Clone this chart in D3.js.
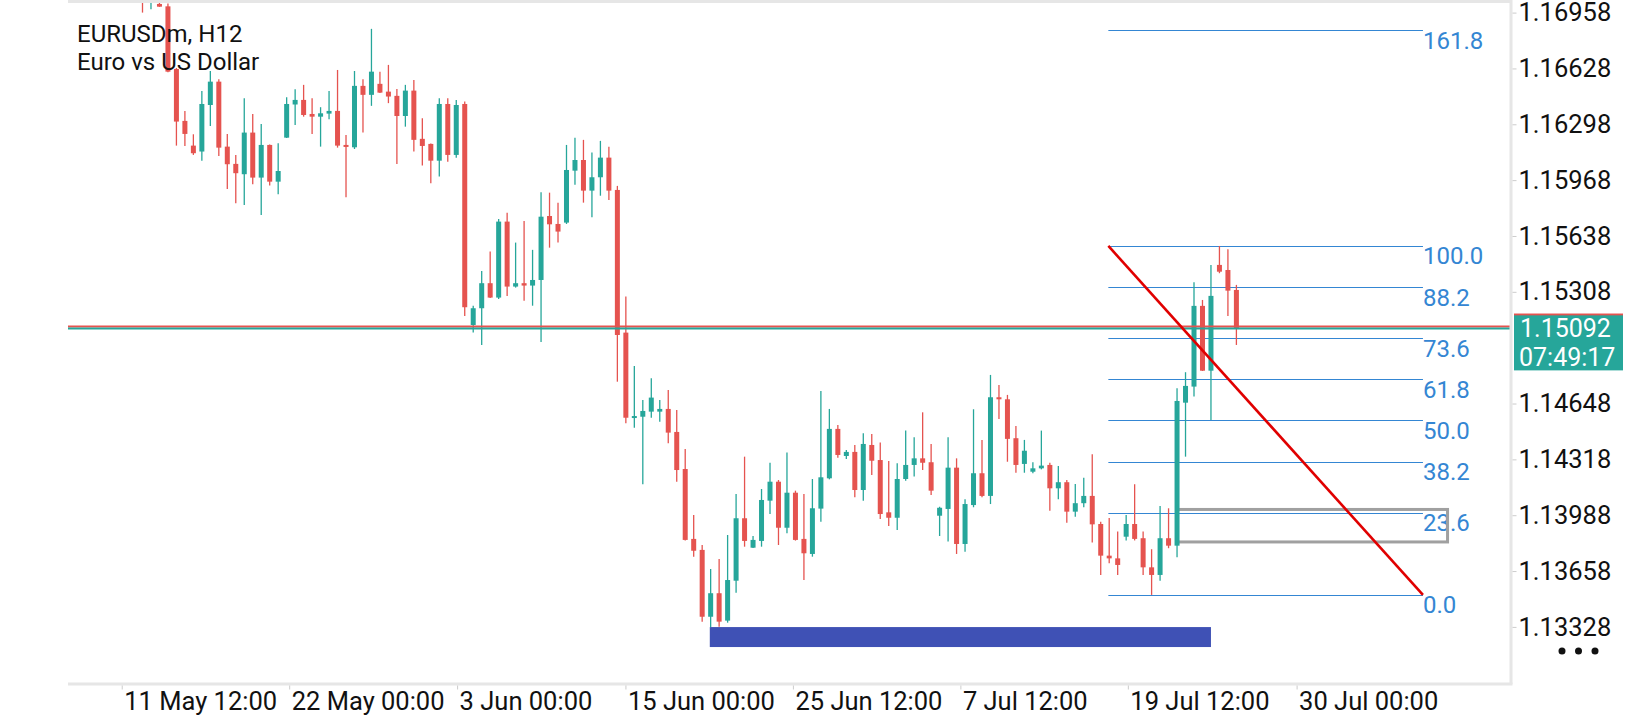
<!DOCTYPE html>
<html>
<head>
<meta charset="utf-8">
<script src="https://cdn.jsdelivr.net/npm/d3@7"></script>
<style>
  html, body { margin: 0; padding: 0; background: #ffffff; }
  svg { display: block; font-family: Roboto, "Noto Sans", sans-serif; }
</style>
</head>
<body>
<div id="chart"></div>
<script>
// EURUSDm H12 candles (oldest first)
var opens = [
  1.17080, 1.17027, 1.17009, 1.16995, 1.16625, 1.16318, 1.16172, 1.16137, 1.16412, 1.16550,
  1.16166, 1.16064, 1.16003, 1.16249, 1.15983, 1.16176, 1.15959, 1.16219, 1.16415, 1.16442,
  1.16359, 1.16343, 1.16361, 1.16377, 1.16176, 1.16162, 1.16525, 1.16472, 1.16537, 1.16491,
  1.16466, 1.16347, 1.16497, 1.16212, 1.16182, 1.16083, 1.16418, 1.16117, 1.16418, 1.15112,
  1.15211, 1.15359, 1.15274, 1.15723, 1.15339, 1.15359, 1.15345, 1.15378, 1.15756, 1.15709,
  1.15717, 1.16024, 1.16087, 1.15906, 1.15985, 1.16101, 1.15910, 1.15067, 1.14564, 1.14570,
  1.14600, 1.14600, 1.14616, 1.14480, 1.14261, 1.13848, 1.13783, 1.13388, 1.13527, 1.13365,
  1.13601, 1.13970, 1.13796, 1.13836, 1.14074, 1.14186, 1.13914, 1.14121, 1.13848, 1.13759,
  1.14027, 1.14206, 1.14498, 1.14338, 1.14362, 1.14137, 1.14403, 1.14314, 1.14005, 1.13973,
  1.14202, 1.14285, 1.14324, 1.14301, 1.13985, 1.14025, 1.14269, 1.13818, 1.14048, 1.14236,
  1.14102, 1.14685, 1.14673, 1.14443, 1.14291, 1.14245, 1.14265, 1.14285, 1.14147, 1.14183,
  1.14009, 1.14059, 1.14102, 1.13936, 1.13749, 1.13733, 1.13861, 1.13936, 1.13852, 1.13680,
  1.13635, 1.13852, 1.13808, 1.14653, 1.14748, 1.15225, 1.14842, 1.15467, 1.15437, 1.15319
];
var highs = [
  1.17104, 1.17092, 1.17015, 1.17012, 1.16631, 1.16377, 1.16239, 1.16495, 1.16613, 1.16564,
  1.16241, 1.16117, 1.16452, 1.16359, 1.16300, 1.16178, 1.16186, 1.16458, 1.16505, 1.16531,
  1.16452, 1.16399, 1.16495, 1.16619, 1.16235, 1.16613, 1.16564, 1.16862, 1.16609, 1.16649,
  1.16507, 1.16531, 1.16560, 1.16334, 1.16184, 1.16452, 1.16452, 1.16442, 1.16432, 1.15225,
  1.15431, 1.15546, 1.15739, 1.15776, 1.15599, 1.15727, 1.15556, 1.15897, 1.15894, 1.15835,
  1.16176, 1.16219, 1.16206, 1.16131, 1.16200, 1.16166, 1.15934, 1.15280, 1.14870, 1.14669,
  1.14797, 1.14669, 1.14728, 1.14610, 1.14379, 1.13989, 1.13812, 1.13670, 1.13729, 1.13871,
  1.14114, 1.14334, 1.13865, 1.14143, 1.14298, 1.14196, 1.14358, 1.14133, 1.14114, 1.14202,
  1.14722, 1.14616, 1.14521, 1.14374, 1.14403, 1.14472, 1.14468, 1.14417, 1.14309, 1.14295,
  1.14488, 1.14449, 1.14596, 1.14409, 1.14038, 1.14449, 1.14324, 1.14082, 1.14614, 1.14433,
  1.14817, 1.14758, 1.14699, 1.14515, 1.14433, 1.14301, 1.14488, 1.14298, 1.14279, 1.14196,
  1.14173, 1.14210, 1.14348, 1.13950, 1.13972, 1.13891, 1.13989, 1.14171, 1.13891, 1.13787,
  1.14043, 1.14029, 1.14738, 1.14833, 1.15365, 1.15260, 1.15467, 1.15579, 1.15560, 1.15349
];
var lows = [
  1.16958, 1.16978, 1.16992, 1.16605, 1.16172, 1.16170, 1.16117, 1.16083, 1.16288, 1.16111,
  1.15916, 1.15831, 1.15821, 1.15944, 1.15762, 1.15936, 1.15885, 1.16217, 1.16294, 1.16343,
  1.16241, 1.16166, 1.16328, 1.16160, 1.15867, 1.16152, 1.16249, 1.16407, 1.16483, 1.16423,
  1.16064, 1.16284, 1.16137, 1.16054, 1.15950, 1.15989, 1.16077, 1.16101, 1.15165, 1.15067,
  1.14994, 1.15272, 1.15266, 1.15284, 1.15333, 1.15256, 1.15226, 1.15012, 1.15569, 1.15599,
  1.15709, 1.15940, 1.15835, 1.15749, 1.15876, 1.15851, 1.14777, 1.14531, 1.14505, 1.14171,
  1.14564, 1.14541, 1.14413, 1.14186, 1.13838, 1.13743, 1.13359, 1.13327, 1.13329, 1.13353,
  1.13530, 1.13802, 1.13794, 1.13802, 1.13995, 1.13812, 1.13881, 1.13838, 1.13605, 1.13743,
  1.13950, 1.14200, 1.14328, 1.14320, 1.14094, 1.14074, 1.14226, 1.13966, 1.13924, 1.13901,
  1.14192, 1.14216, 1.14255, 1.14108, 1.13865, 1.13832, 1.13759, 1.13772, 1.14035, 1.14094,
  1.14054, 1.14557, 1.14304, 1.14239, 1.14239, 1.14236, 1.14259, 1.14015, 1.14082, 1.13944,
  1.13979, 1.14035, 1.13826, 1.13635, 1.13704, 1.13635, 1.13838, 1.13839, 1.13635, 1.13517,
  1.13601, 1.13793, 1.13739, 1.14334, 1.14689, 1.14840, 1.14551, 1.15418, 1.15165, 1.14994
];
var closes = [
  1.17027, 1.17068, 1.16993, 1.16609, 1.16314, 1.16241, 1.16127, 1.16418, 1.16550, 1.16160,
  1.16062, 1.16009, 1.16249, 1.15983, 1.16176, 1.15959, 1.16022, 1.16418, 1.16442, 1.16353,
  1.16343, 1.16363, 1.16377, 1.16172, 1.16166, 1.16525, 1.16472, 1.16609, 1.16485, 1.16462,
  1.16347, 1.16497, 1.16206, 1.16170, 1.16083, 1.16418, 1.16117, 1.16412, 1.15217, 1.15211,
  1.15359, 1.15274, 1.15723, 1.15339, 1.15359, 1.15345, 1.15378, 1.15752, 1.15707, 1.15664,
  1.16028, 1.16087, 1.15906, 1.15985, 1.16101, 1.15906, 1.15053, 1.14564, 1.14574, 1.14604,
  1.14683, 1.14616, 1.14476, 1.14255, 1.13842, 1.13778, 1.13388, 1.13527, 1.13359, 1.13605,
  1.13970, 1.13836, 1.13842, 1.14078, 1.14186, 1.13914, 1.14121, 1.13842, 1.13763, 1.14029,
  1.14212, 1.14498, 1.14344, 1.14362, 1.14137, 1.14409, 1.14310, 1.13995, 1.13973, 1.14202,
  1.14285, 1.14324, 1.14298, 1.14133, 1.14032, 1.14269, 1.13818, 1.14054, 1.14236, 1.14102,
  1.14685, 1.14673, 1.14439, 1.14285, 1.14369, 1.14265, 1.14281, 1.14147, 1.14183, 1.14009,
  1.14059, 1.14102, 1.13934, 1.13749, 1.13733, 1.13694, 1.13936, 1.13848, 1.13680, 1.13635,
  1.13852, 1.13808, 1.14663, 1.14752, 1.15225, 1.14842, 1.15284, 1.15427, 1.15315, 1.15092
];

// price axis (1.14978 sits under the quote box, so it is not shown)
var priceTicks = [1.16958, 1.16628, 1.16298, 1.15968, 1.15638, 1.15308,
                  1.14648, 1.14318, 1.13988, 1.13658, 1.13328];

// time axis (bar index where each label sits)
var timeLabels = ["11 May 12:00", "22 May 00:00", "3 Jun 00:00", "15 Jun 00:00",
                  "25 Jun 12:00", "7 Jul 12:00", "19 Jul 12:00", "30 Jul 00:00"];
var timeBars = [-2.45, 17.3, 37.1, 56.95, 76.7, 96.45, 116.2, 136.1];

// current quote
var bid = 1.15092;
var ask = 1.15103;
var quoteTime = "07:49:17";

// fibonacci retracement
var fibLevels = [0, 23.6, 38.2, 50.0, 61.8, 73.6, 88.2, 100.0, 161.8];
var fibHigh = 1.15579;
var fibLow = 1.13517;
var fibBars = [113.9, 151.0];

// drawn objects
var supportZone = { bars: [66.9, 126.0], prices: [1.13327, 1.13209] };
var boxZone = { bars: [122.0, 153.9], prices: [1.14022, 1.13830] };

var svgWidth = 1640;
var svgHeight = 720;

var frame = { left: 68, right: 1511, top: 3, bottom: 684 };

var upColor = "#26a69a";
var downColor = "#e5534f";
var fibColor = "#3486d3";

var candles = opens.map(function(o, i) {
  return { i: i, open: o, high: highs[i], low: lows[i], close: closes[i] };
});

var svg = d3.select("#chart")
  .append("svg")
  .attr("width", svgWidth)
  .attr("height", svgHeight);

var xScale = d3.scaleLinear()
  .domain([0, 129])
  .range([142.5, 1236.4]);

var yScale = d3.scaleLinear()
  .domain([1.13328, 1.16958])
  .range([626.9, 12.6]);

svg.append("defs").append("clipPath")
  .attr("id", "plot-clip")
  .append("rect")
  .attr("x", frame.left)
  .attr("y", frame.top)
  .attr("width", frame.right - frame.left)
  .attr("height", frame.bottom - frame.top);

var plot = svg.append("g").attr("clip-path", "url(#plot-clip)");

// support rectangle under the lows
plot.append("rect")
  .attr("x", xScale(supportZone.bars[0]))
  .attr("y", yScale(supportZone.prices[0]))
  .attr("width", xScale(supportZone.bars[1]) - xScale(supportZone.bars[0]))
  .attr("height", yScale(supportZone.prices[1]) - yScale(supportZone.prices[0]))
  .attr("fill", "#3f51b5");

// fib level lines and labels
var fibPrice = function(l) { return fibLow + (fibHigh - fibLow) * l / 100; };

plot.selectAll(".fib-line")
  .data(fibLevels)
  .enter()
  .append("line")
  .attr("x1", xScale(fibBars[0]))
  .attr("x2", xScale(fibBars[1]))
  .attr("y1", d => Math.round(yScale(fibPrice(d))) + 0.5)
  .attr("y2", d => Math.round(yScale(fibPrice(d))) + 0.5)
  .attr("stroke", fibColor)
  .attr("stroke-width", 1);

plot.selectAll(".fib-label")
  .data(fibLevels)
  .enter()
  .append("text")
  .attr("x", xScale(fibBars[1]))
  .attr("y", d => yScale(fibPrice(d)) + 18.5)
  .attr("fill", fibColor)
  .attr("font-size", "24px")
  .text(d => d.toFixed(1));

// grey box
plot.append("rect")
  .attr("x", xScale(boxZone.bars[0]))
  .attr("y", yScale(boxZone.prices[0]))
  .attr("width", xScale(boxZone.bars[1]) - xScale(boxZone.bars[0]))
  .attr("height", yScale(boxZone.prices[1]) - yScale(boxZone.prices[0]))
  .attr("fill", "none")
  .attr("stroke", "#a0a0a0")
  .attr("stroke-width", 3);

// wicks
plot.selectAll(".wick")
  .data(candles)
  .enter()
  .append("line")
  .attr("x1", d => xScale(d.i))
  .attr("x2", d => xScale(d.i))
  .attr("y1", d => yScale(d.high))
  .attr("y2", d => yScale(d.low))
  .attr("stroke", d => d.close >= d.open ? upColor : downColor)
  .attr("stroke-width", 1.3);

// bodies
plot.selectAll(".body")
  .data(candles)
  .enter()
  .append("rect")
  .attr("x", d => xScale(d.i) - 2.5)
  .attr("y", d => yScale(Math.max(d.open, d.close)))
  .attr("width", 5)
  .attr("height", d => Math.max(2, Math.abs(yScale(d.open) - yScale(d.close))))
  .attr("fill", d => d.close >= d.open ? upColor : downColor);

// current price lines
plot.append("line")
  .attr("x1", frame.left).attr("x2", frame.right)
  .attr("y1", yScale(ask)).attr("y2", yScale(ask))
  .attr("stroke", downColor).attr("stroke-width", 2);

plot.append("line")
  .attr("x1", frame.left).attr("x2", frame.right)
  .attr("y1", yScale(bid)).attr("y2", yScale(bid))
  .attr("stroke", upColor).attr("stroke-width", 2);

// fib trend line
plot.append("line")
  .attr("x1", xScale(fibBars[0]))
  .attr("y1", yScale(fibHigh))
  .attr("x2", xScale(fibBars[1]))
  .attr("y2", yScale(fibLow))
  .attr("stroke", "#e00000")
  .attr("stroke-width", 2.6);

// frame
svg.append("line")
  .attr("x1", frame.left).attr("x2", frame.right)
  .attr("y1", 1.5).attr("y2", 1.5)
  .attr("stroke", "#e6e6e6").attr("stroke-width", 3);
svg.append("line")
  .attr("x1", frame.left).attr("x2", frame.right + 1.5)
  .attr("y1", frame.bottom).attr("y2", frame.bottom)
  .attr("stroke", "#e6e6e6").attr("stroke-width", 3);
svg.append("line")
  .attr("x1", frame.right).attr("x2", frame.right)
  .attr("y1", 0).attr("y2", frame.bottom)
  .attr("stroke", "#e6e6e6").attr("stroke-width", 3);

// price axis
var rightAxis = d3.axisRight(yScale)
  .tickValues(priceTicks)
  .tickSize(4)
  .tickPadding(2)
  .tickFormat(d3.format(".5f"));

var yAxis = svg.append("g")
  .attr("transform", `translate(${frame.right + 1.5}, 0)`)
  .call(rightAxis);

yAxis.select(".domain").remove();
yAxis.selectAll(".tick line").attr("stroke", "#cccccc");
yAxis.selectAll(".tick text")
  .attr("font-family", "Roboto, sans-serif")
  .attr("font-size", "25.5px")
  .attr("fill", "#111111");

// time axis
var bottomAxis = d3.axisBottom(xScale)
  .tickValues(timeBars)
  .tickSize(4)
  .tickFormat((d, i) => timeLabels[i]);

var xAxis = svg.append("g")
  .attr("transform", `translate(0, ${frame.bottom + 1.5})`)
  .call(bottomAxis);

xAxis.select(".domain").remove();
xAxis.selectAll(".tick line").attr("stroke", "#cccccc");
xAxis.selectAll(".tick text")
  .attr("text-anchor", "start")
  .attr("x", 2)
  .attr("y", 24.5)
  .attr("dy", 0)
  .attr("font-family", "Roboto, sans-serif")
  .attr("font-size", "25.5px")
  .attr("fill", "#111111");

// quote labels: ask box peeks out above the bid box
var boxX = frame.right + 3;
svg.append("rect")
  .attr("x", boxX).attr("y", yScale(ask) - 13)
  .attr("width", 109).attr("height", 55)
  .attr("fill", downColor);
svg.append("rect")
  .attr("x", boxX).attr("y", yScale(bid) - 13)
  .attr("width", 109).attr("height", 55)
  .attr("fill", upColor);
svg.append("text")
  .attr("x", boxX + 6).attr("y", yScale(bid))
  .attr("dy", "0.35em")
  .attr("font-size", "25px")
  .attr("fill", "#ffffff")
  .text(d3.format(".5f")(bid));
svg.append("text")
  .attr("x", boxX + 5).attr("y", yScale(bid) + 28.5)
  .attr("dy", "0.35em")
  .attr("font-size", "25px")
  .attr("fill", "#ffffff")
  .text(quoteTime);

// title
svg.append("text")
  .attr("x", 77).attr("y", 41.5)
  .attr("font-size", "24px")
  .attr("fill", "#111111")
  .text("EURUSDm, H12");
svg.append("text")
  .attr("x", 77).attr("y", 70)
  .attr("font-size", "24px")
  .attr("fill", "#111111")
  .text("Euro vs US Dollar");

// menu dots
svg.selectAll(".dot")
  .data([0, 1, 2])
  .enter()
  .append("circle")
  .attr("cx", d => 1562 + d * 16.5)
  .attr("cy", 651)
  .attr("r", 3.5)
  .attr("fill", "#111111");
</script>
</body>
</html>
